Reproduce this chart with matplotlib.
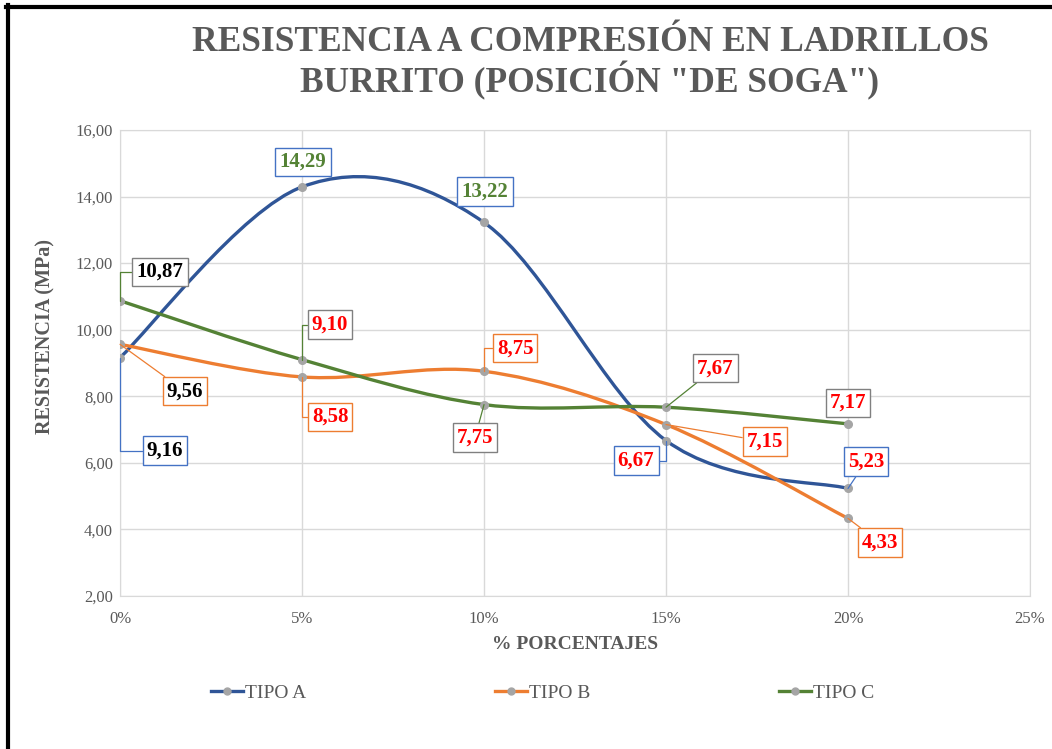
import numpy as np
import matplotlib.pyplot as plt
from matplotlib.path import Path
from matplotlib.patches import PathPatch
from matplotlib.lines import Line2D

plt.rcParams['font.family'] = ['Liberation Serif', 'DejaVu Serif']

# datos
porcentajes = [0, 5, 10, 15, 20]
tipo_a = [9.16, 14.29, 13.22, 6.67, 5.23]
tipo_b = [9.56, 8.58, 8.75, 7.15, 4.33]
tipo_c = [10.87, 9.10, 7.75, 7.67, 7.17]
nombres = ['TIPO A', 'TIPO B', 'TIPO C']

colores = ['#2F5597', '#ED7D31', '#548235']
bordes = ['#4472C4', '#ED7D31', '#808080']
gris = '#595959'

# color del texto de cada etiqueta
txt_a = ['black', '#548235', '#548235', 'red', 'red']
txt_b = ['black', 'red', 'red', 'red', 'red']
txt_c = ['black', 'red', 'red', 'red', 'red']

# desplazamiento de etiquetas (pixeles) y tipo de guia
off_a = [(45, -93), (1, 25), (1, 31), (-30, -20), (18, 27)]
off_b = [(65, -47), (28, -40), (31, 23), (99, -17), (32, -24)]
off_c = [(40, 29), (28, 35), (-9, -33), (49, 39), (0, 21)]
guia_a = ['angle', None, None, 'angle', 'line']
guia_b = ['line', 'angle', 'angle', 'line', 'line']
guia_c = ['angle', 'angle', 'line', 'line', None]


def curva_suave(xs, ys):
    # curva tipo Excel (Catmull-Rom -> Bezier)
    p = np.column_stack([xs, ys]).astype(float)
    n = len(p)
    verts = [p[0]]
    codes = [Path.MOVETO]
    for i in range(n - 1):
        p0 = p[i - 1] if i > 0 else p[i]
        p1 = p[i]
        p2 = p[i + 1]
        p3 = p[i + 2] if i + 2 < n else p[i + 1]
        verts += [p1 + (p2 - p0) / 6, p2 - (p3 - p1) / 6, p2]
        codes += [Path.CURVE4] * 3
    return Path(verts, codes)


fig = plt.figure(figsize=(10.52, 7.49), dpi=100)
ax = fig.add_axes([0.1141, 0.2043, 0.865, 0.6222])

series = [tipo_a, tipo_b, tipo_c]
textos = [txt_a, txt_b, txt_c]
offs = [off_a, off_b, off_c]
guias = [guia_a, guia_b, guia_c]

for k, ys in enumerate(series):
    ax.add_patch(PathPatch(curva_suave(porcentajes, ys), fill=False,
                           edgecolor=colores[k], lw=2.4, zorder=3))
    ax.plot(porcentajes, ys, 'o', color='#A5A5A5', ms=5.5, zorder=4)
    col_guia = bordes[k] if k < 2 else colores[k]
    for j, (x, y) in enumerate(zip(porcentajes, ys)):
        g = guias[k][j]
        props = None
        if g == 'angle':
            props = dict(arrowstyle='-', color=col_guia, lw=0.9, shrinkA=0, shrinkB=0,
                         connectionstyle='angle,angleA=0,angleB=90,rad=0')
        elif g == 'line':
            props = dict(arrowstyle='-', color=col_guia, lw=0.9, shrinkA=0, shrinkB=0)
        ax.annotate(f'{y:.2f}'.replace('.', ','), (x, y),
                    xytext=offs[k][j], textcoords='offset pixels',
                    ha='center', va='center', fontsize=15, fontweight='bold',
                    color=textos[k][j], arrowprops=props, zorder=6,
                    bbox=dict(boxstyle='square,pad=0.2', fc='white',
                              ec=bordes[k], lw=1))

ax.set_xlim(0, 25)
ax.set_ylim(2, 16)
ax.set_xticks([0, 5, 10, 15, 20, 25])
ax.set_xticklabels([f'{v}%' for v in [0, 5, 10, 15, 20, 25]])
ax.set_yticks(np.arange(2, 17, 2))
ax.set_yticklabels([f'{v:.2f}'.replace('.', ',') for v in np.arange(2, 17, 2)])
ax.tick_params(length=0, labelsize=12, labelcolor=gris)
ax.tick_params(axis='x', pad=11)
ax.tick_params(axis='y', pad=5)
ax.grid(color='#D9D9D9', lw=1)
ax.set_axisbelow(True)
for s in ax.spines.values():
    s.set_color('#D9D9D9')

ax.set_xlabel('% PORCENTAJES', fontsize=14, fontweight='bold', color=gris, labelpad=6)
ax.set_ylabel('RESISTENCIA (MPa)', fontsize=14.5, fontweight='bold', color=gris)
ax.yaxis.set_label_coords(-0.071, 0.556)

fig.text(590 / 1052, 1 - 63 / 749, 'RESISTENCIA A COMPRESIÓN EN LADRILLOS\nBURRITO (POSICIÓN "DE SOGA")',
         ha='center', va='center', fontsize=25.5, fontweight='bold', color=gris,
         linespacing=1.05)

handles = [Line2D([], [], color=c, lw=2.4, marker='o', mfc='#A5A5A5', mec='#A5A5A5', ms=5)
           for c in colores]
fig.legend(handles, nombres, loc='center', bbox_to_anchor=(543 / 1052, 1 - 693 / 749),
           ncol=3, frameon=False, fontsize=14, labelcolor=gris, handlelength=1.65,
           handletextpad=0.1, columnspacing=9.7)

# marco negro
fig.add_artist(Line2D([0.0075, 0.0075], [0, 0.993], color='black', lw=3, transform=fig.transFigure))
fig.add_artist(Line2D([0.0055, 1], [0.991, 0.991], color='black', lw=3, transform=fig.transFigure))

fig.savefig('out.png', dpi=100)
